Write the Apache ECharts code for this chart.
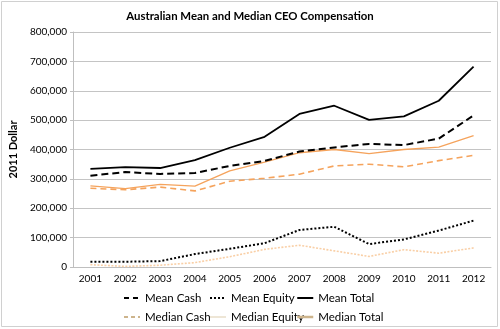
<!DOCTYPE html>
<html>
<head>
<meta charset="utf-8">
<script src="https://cdn.jsdelivr.net/npm/echarts@6/dist/echarts.min.js"></script>
<style>
  html, body { margin: 0; padding: 0; background: #fff; }
  #chart { width: 500px; height: 329px; }
</style>
</head>
<body>
<div id="chart"></div>
<script>
// Australian CEO pay, 2011 dollars
const years = ['2001','2002','2003','2004','2005','2006','2007','2008','2009','2010','2011','2012'];
const meanCash    = [311000, 323000, 317000, 320000, 344000, 361000, 393000, 407000, 419000, 415000, 437000, 516000];
const meanEquity  = [18000, 18000, 20000, 44000, 62000, 81000, 126000, 137000, 78000, 94000, 124000, 158000];
const meanTotal   = [334000, 340000, 337000, 364000, 406000, 443000, 521000, 549000, 501000, 513000, 566000, 682000];
const medianCash  = [268000, 263000, 272000, 259000, 292000, 302000, 316000, 344000, 350000, 341000, 362000, 380000];
const medianEquity= [8000, 2000, 6000, 15000, 35000, 60000, 74000, 55000, 36000, 59000, 47000, 65000];
const medianTotal = [276000, 267000, 281000, 275000, 327000, 357000, 389000, 400000, 386000, 400000, 408000, 447000];
const yTicks = [0, 100000, 200000, 300000, 400000, 500000, 600000, 700000, 800000];

const FONT = 'Lato, "Open Sans", sans-serif';
const ORANGE = '#f5a35c';
const ORANGE_LIGHT = '#f9cfa6';
const TAN = '#cdb48c';
const HIDDEN = { color: 'rgba(0,0,0,0)', borderWidth: 0, opacity: 0 };

function line(name, data, color, width, type, z) {
  return {
    name, type: 'line', data, symbol: 'none', smooth: false, z: z || 2,
    lineStyle: { color, width, type },
    itemStyle: { color }
  };
}

const chart = echarts.init(document.getElementById('chart'), null, { renderer: 'canvas' });

// one vertical legend per column so the three columns line up
function legendCol(left, items) {
  return {
    orient: 'vertical', top: 292, left, padding: 0,
    itemWidth: 16, itemHeight: 10, itemGap: 7,
    textStyle: { fontFamily: FONT, fontSize: 11.5, color: '#000' },
    selectedMode: false,
    data: items.map(d => Object.assign({ itemStyle: HIDDEN }, d))
  };
}

chart.setOption({
  animation: false,
  backgroundColor: '#fff',
  title: {
    text: 'Australian Mean and Median CEO Compensation',
    left: 'center', top: 6,
    textStyle: { fontFamily: FONT, fontSize: 11.4, fontWeight: 'bold', color: '#000' }
  },
  graphic: [{
    type: 'rect', shape: { x: 1.5, y: 1.5, width: 496, height: 325 },
    style: { fill: null, stroke: '#d0d0d0', lineWidth: 1 }, silent: true, z: -1
  }],
  grid: { left: 67, right: 9, top: 32, bottom: 62, containLabel: false },
  legend: [
    legendCol(123, [
      { name: 'Mean Cash', lineStyle: { color: '#000', type: [5, 4], width: 2 } },
      { name: 'Median Cash', lineStyle: { color: TAN, type: [4, 3], width: 2 } }
    ]),
    legendCol(209, [
      { name: 'Mean Equity', lineStyle: { color: '#000', type: [2, 2], width: 2 } },
      { name: 'Median Equity', lineStyle: { color: '#eee6d6', type: 'solid', width: 2 } }
    ]),
    legendCol(296, [
      { name: 'Mean Total', lineStyle: { color: '#000', type: 'solid', width: 2 } },
      { name: 'Median Total', lineStyle: { color: TAN, type: 'solid', width: 2.5 } }
    ])
  ],
  xAxis: {
    type: 'category', data: years, boundaryGap: true,
    axisLine: { lineStyle: { color: '#bfbfbf', width: 1 } },
    axisTick: { show: false },
    axisLabel: { fontFamily: FONT, fontSize: 10, color: '#000', margin: 7 },
    splitLine: { show: false }
  },
  yAxis: {
    type: 'value', min: yTicks[0], max: yTicks[yTicks.length - 1], interval: 100000,
    name: '2011 Dollar', nameLocation: 'middle', nameGap: 54, nameRotate: 90,
    nameTextStyle: { fontFamily: FONT, fontSize: 11, fontWeight: 'bold', color: '#000' },
    axisLine: { show: true, lineStyle: { color: '#bfbfbf', width: 1 } },
    axisTick: { show: true, length: 3, lineStyle: { color: '#bfbfbf' } },
    axisLabel: {
      fontFamily: FONT, fontSize: 10, color: '#000', margin: 6,
      formatter: v => v.toLocaleString('en-US')
    },
    splitLine: { lineStyle: { color: '#c4c4c4', width: 1 } }
  },
  series: [
    line('Mean Cash', meanCash, '#000', 2, [7, 4], 4),
    line('Mean Equity', meanEquity, '#000', 2, [2, 2], 4),
    line('Mean Total', meanTotal, '#000', 1.8, 'solid', 5),
    line('Median Cash', medianCash, ORANGE, 1.6, [6, 4], 3),
    line('Median Equity', medianEquity, ORANGE_LIGHT, 1.6, [2, 1.5], 3),
    line('Median Total', medianTotal, ORANGE, 1.3, 'solid', 3)
  ]
});
</script>
</body>
</html>
